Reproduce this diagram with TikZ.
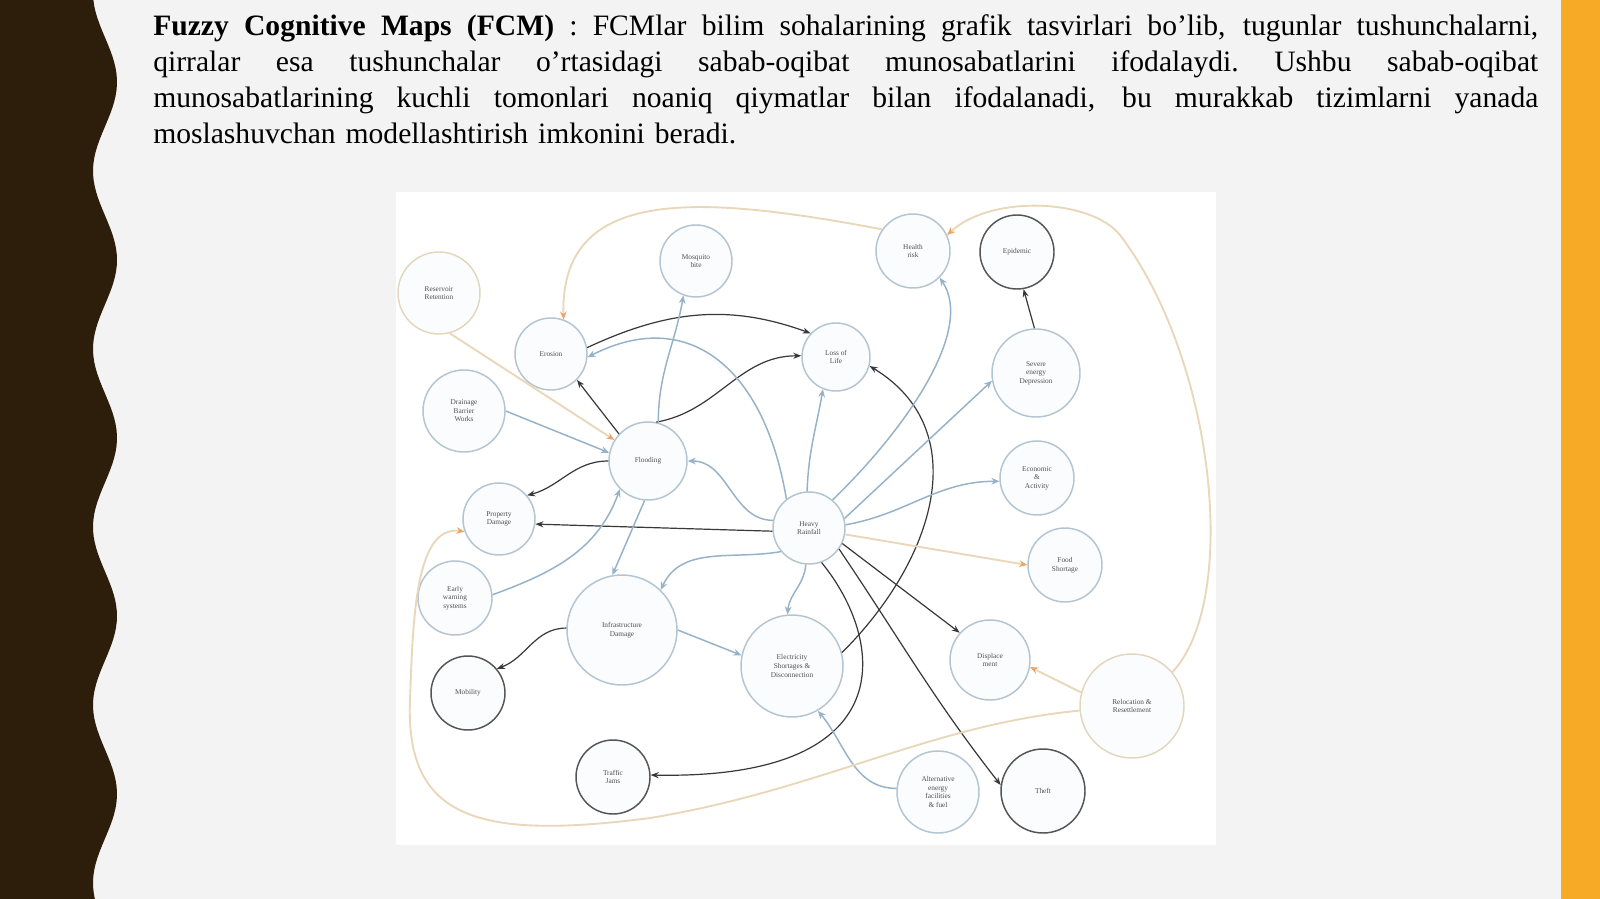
\documentclass[tikz,border=0pt]{standalone}
\usepackage{fontspec}
\setmainfont{Liberation Serif}
\usepackage{xcolor}
\usetikzlibrary{arrows.meta}

\definecolor{pagegray}{RGB}{243,243,243}
\definecolor{bandbrown}{RGB}{45,29,11}
\definecolor{bandorange}{RGB}{246,170,38}
\definecolor{ringblue}{RGB}{180,196,208}
\definecolor{ringdark}{RGB}{85,85,85}
\definecolor{ringtan}{RGB}{228,214,190}
\definecolor{edgedark}{RGB}{55,55,60}
\definecolor{edgeblue}{RGB}{150,178,200}
\definecolor{edgetan}{RGB}{233,215,185}
\definecolor{arrowtan}{RGB}{232,165,100}
\definecolor{labelgray}{RGB}{80,80,80}
\definecolor{ringfill}{RGB}{250,252,253}

% one justified line of the heading
\newcommand\fullline[1]{\makebox[1038.75pt][s]{\spaceskip=0.25em plus 1fil\relax
  \xspaceskip=0.25em plus 1fil\relax #1}}

\tikzset{
  fcm/.style={circle, draw=ringblue, line width=1.1pt, fill=ringfill, inner sep=0pt,
    minimum size=#1, align=center, text=labelgray, font=\fontsize{5.5}{6.4}\selectfont},
  fcmdark/.style={fcm=#1, draw=ringdark},
  fcmtan/.style={fcm=#1, draw=ringtan},
  cause/.style={draw=edgedark, line width=0.9pt, -{Stealth[length=6pt,width=4.5pt]}},
  weak/.style={draw=edgeblue, line width=1.1pt, -{Stealth[length=6pt,width=5pt]}},
  slow/.style={draw=edgetan, line width=1.4pt, -{Stealth[length=6pt,width=5pt,color=arrowtan]}},
}

\begin{document}
\begin{tikzpicture}[x=0.75pt,y=-0.75pt]
  \useasboundingbox (0,0) rectangle (1600,899);
  \fill[pagegray] (0,0) rectangle (1600,899);
  \fill[bandorange] (1561,0) rectangle (1600,899);
  \fill[bandbrown] (0,0) -- plot[domain=0:899,samples=160] ({105+12*cos(2.0225*(\x-82))},\x) -- (0,899) -- cycle;

  % heading
  \node[anchor=north west, inner sep=0pt, text width=1038.75pt, align=left,
    font=\fontsize{22.2}{27}\selectfont] (intro) at (153,14.5) {%
    \fullline{\textbf{Fuzzy Cognitive Maps (FCM)} : FCMlar bilim sohalarining grafik tasvirlari bo'lib, tugunlar tushunchalarni,}\\
    \fullline{qirralar esa tushunchalar o'rtasidagi sabab-oqibat munosabatlarini ifodalaydi. Ushbu sabab-oqibat}\\
    \fullline{munosabatlarining kuchli tomonlari noaniq qiymatlar bilan ifodalanadi, bu murakkab tizimlarni yanada}\\
    moslashuvchan modellashtirish imkonini beradi.};

  % map panel
  \fill[white] (396,192) rectangle (1216,845);

  % concepts
  \node[fcmtan=61.5pt] (res) at (439,293) {Reservoir\\Retention};
  \node[fcm=54pt] (mos) at (696,261) {Mosquito\\bite};
  \node[fcm=55.5pt] (hea) at (913,251) {Health\\risk};
  \node[fcmdark=55.5pt] (epi) at (1017,252) {Epidemic};
  \node[fcm=54pt] (ero) at (551,354) {Erosion};
  \node[fcm=51pt] (life) at (836,357) {Loss of\\Life};
  \node[fcm=66pt] (sew) at (1036,373) {Severe\\energy\\Depression};
  \node[fcm=61.5pt] (drn) at (464,411) {Drainage\\Barrier\\Works};
  \node[fcm=58.5pt] (fl) at (648,461) {Flooding};
  \node[fcm=55.5pt] (eco) at (1037,478) {Economic\\\&\\Activity};
  \node[fcm=54pt] (prop) at (499,519) {Property\\Damage};
  \node[fcm=54pt] (rain) at (809,528) {Heavy\\Rainfall};
  \node[fcm=55.5pt] (food) at (1065,565) {Food\\Shortage};
  \node[fcm=55.5pt] (ews) at (455,598) {Early\\warning\\systems};
  \node[fcm=82.5pt] (inf) at (622,630) {Infrastructure\\Damage};
  \node[fcm=76.5pt] (elec) at (792,666) {Electricity\\Shortages \&\\Disconnection};
  \node[fcm=60pt] (disp) at (990,660) {Displace\\ment};
  \node[fcmtan=78pt] (rel) at (1132,706) {Relocation \&\\Resettlement};
  \node[fcmdark=55.5pt] (mob) at (468,693) {Mobility};
  \node[fcmdark=55.5pt] (traf) at (613,777) {Traffic\\Jams};
  \node[fcm=61.5pt] (alt) at (938,792) {Alternative\\energy\\facilities\\\& fuel};
  \node[fcmdark=63pt] (theft) at (1043,791) {Theft};

  % strong links
  \draw[cause] (ero.10) to[out=25,in=160] (life.137);
  \draw[cause] (fl.78) to[out=10,in=180] (life.178);
  \draw[cause] (fl.137) -- (ero.-45);
  \draw[cause] (fl.180) to[out=180,in=15] (prop.40);
  \draw[cause] (rain.185) -- (prop.-8);
  \draw[cause] (rain.-25) -- (disp.138);
  \draw[cause] (rain.-35) to[out=-56,in=128] (theft.172);
  \draw[cause] (rain.-70) .. controls (885,640) and (905,780) .. (traf.3);
  \draw[cause] (elec.15) .. controls (935,560) and (975,430) .. (life.-15);
  \draw[cause] (inf.178) to[out=180,in=20] (mob.40);
  \draw[cause] (sew.92) -- (epi.-80);

  % weak links
  \draw[weak] (fl.75) to[out=90,in=-100] (mos.-110);
  \draw[weak] (rain.128) .. controls (765,370) and (690,305) .. (ero.-5);
  \draw[weak] (rain.93) to[out=88,in=-100] (life.-112);
  \draw[weak] (rain.50) .. controls (905,430) and (975,330) .. (hea.-45);
  \draw[weak] (rain.15) -- (sew.190);
  \draw[weak] (rain.5) to[out=10,in=180] (eco.185);
  \draw[weak] (rain.168) to[out=180,in=0] (fl.0);
  \draw[weak] (rain.-140) to[out=190,in=65] (inf.46);
  \draw[weak] (rain.-95) to[out=-95,in=85] (elec.95);
  \draw[weak] (drn.0) -- (fl.168);
  \draw[weak] (ews.5) to[out=20,in=-110] (fl.-135);
  \draw[weak] (fl.-95) -- (inf.100);
  \draw[weak] (inf.0) -- (elec.168);
  \draw[weak] (alt.175) to[out=180,in=-50] (elec.-60);

  % slow links
  \draw[slow] (res.-75) -- (fl.148);
  \draw[slow] (hea.145) .. controls (700,195) and (560,185) .. (ero.70);
  \draw[slow] (rel.40) .. controls (1240,600) and (1215,360) .. (1120,235)
    .. controls (1090,198) and (990,195) .. (hea.25);
  \draw[slow] (rain.-10) -- (food.180);
  \draw[slow] (rel.165) -- (disp.-10);
  \draw[slow] (rel.185) .. controls (930,725) and (820,790) .. (650,818)
    .. controls (480,840) and (405,820) .. (410,700)
    .. controls (413,620) and (415,525) .. (prop.200);
\end{tikzpicture}
\end{document}
